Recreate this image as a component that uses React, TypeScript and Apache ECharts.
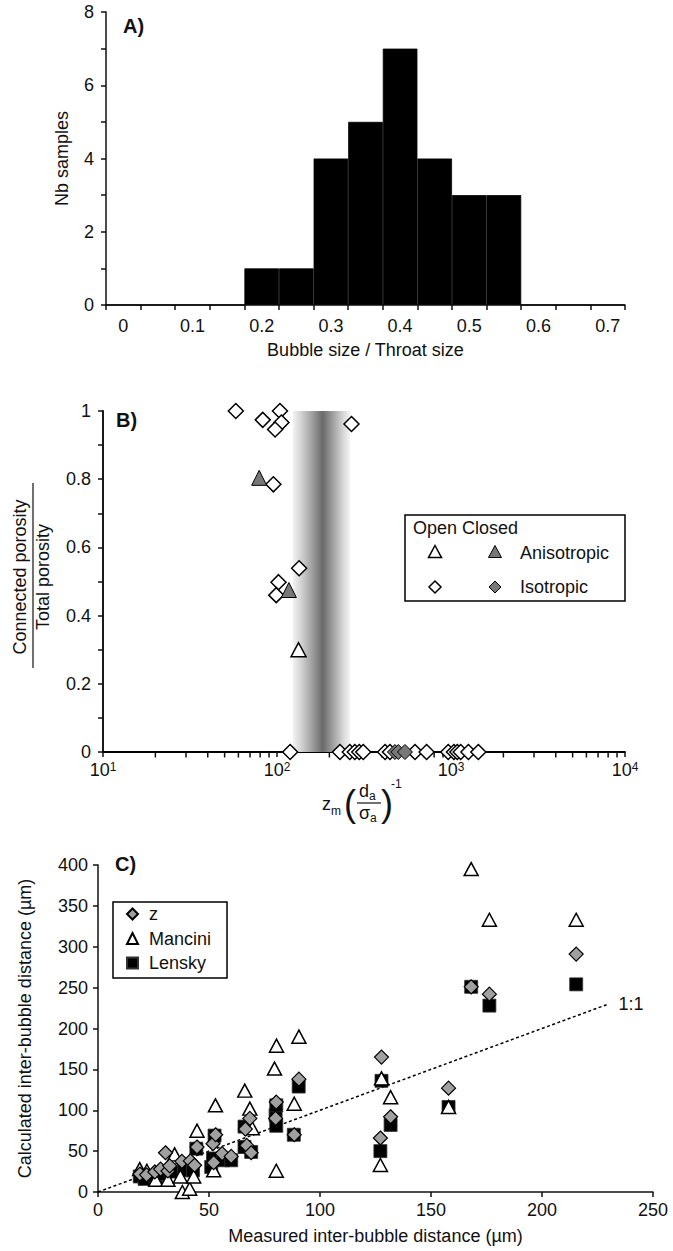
import React, { useEffect, useRef } from 'react';
import * as echarts from 'echarts';

const FONT = '"Liberation Sans", Arial, Helvetica, sans-serif';
const INK = '#111';
const GRAY_FILL = '#777777';
const Z_FILL = '#a0a0a0';

// ---------- Panel A : histogram ----------
const histBins = ['0', '0.05', '0.1', '0.15', '0.2', '0.25', '0.3', '0.35', '0.4', '0.45', '0.5', '0.55', '0.6', '0.65', '0.7'];
const histCounts = [0, 0, 0, 0, 1, 1, 4, 5, 7, 4, 3, 3, 0, 0, 0];

// ---------- Panel B : connectivity vs z_m (d/sigma)^-1 ----------
const openIsotropic: number[][] = [
  [58, 1.0], [82.8, 0.974], [104, 1.0], [106, 0.966], [97.5, 0.946], [268, 0.962],
  [95.3, 0.785], [134, 0.539], [102, 0.498], [99, 0.46],
  [119, 0], [230, 0], [262, 0], [280, 0], [297, 0], [313, 0], [418, 0], [446, 0],
  [621, 0], [724, 0], [964, 0], [1040, 0], [1087, 0], [1137, 0], [1259, 0], [1436, 0],
];
const openAnisotropic: number[][] = [[133, 0.3]];
const closedAnisotropic: number[][] = [[79, 0.804], [117, 0.475]];
const closedIsotropic: number[][] = [[476, 0], [498, 0], [544, 0]];
const bMinorTicks = [20, 30, 40, 50, 60, 70, 80, 90, 200, 300, 400, 500, 600, 700, 800, 900, 2000, 3000, 4000, 5000, 6000, 7000, 8000, 9000];
const transitionBand = [123, 264];

// ---------- Panel C : calculated vs measured inter-bubble distance ----------
const zData: number[][] = [
  [18.9, 22], [21.9, 21], [25.6, 24.5], [28.2, 28], [30.4, 48], [31.5, 25.7], [32.3, 32],
  [37.8, 37.5], [41.6, 38], [43.5, 32.7], [44.6, 55], [51.8, 59], [53, 70], [52.1, 36],
  [55.9, 47], [60, 43.5], [66.4, 77], [67, 57], [69, 48], [68.4, 90], [80.3, 110], [80, 90],
  [88.4, 70], [90.5, 138], [127.2, 66], [127.7, 165], [131.8, 92], [157.9, 127],
  [168.1, 251], [176.3, 242], [215.4, 291],
];
const manciniData: number[][] = [
  [18.8, 28], [22, 26], [26, 15], [31.5, 15], [34.5, 46], [37.1, 19], [38, 0], [41.3, 4],
  [43.1, 19], [44.6, 75], [52.9, 106], [52.1, 26.5], [66.1, 124], [68.4, 102], [69.5, 78],
  [80.3, 26], [79.5, 151], [80.4, 179], [88.4, 108], [90.5, 190], [127.2, 33], [127.7, 139],
  [131.8, 116], [157.9, 104], [168.1, 395], [176.3, 333], [215.4, 333],
];
const lenskyData: number[][] = [
  [18.8, 19], [21, 16], [26, 18], [30, 22], [33, 25], [38.7, 26.5], [42.8, 26.5], [44.3, 53],
  [51, 30.6], [51.8, 41], [52.5, 69], [56.3, 38.8], [60, 38.8], [66, 80], [66, 55], [69, 49],
  [80, 94], [80.3, 106], [80.3, 81], [88.2, 70], [90.4, 129], [127.2, 50], [127.7, 136],
  [131.8, 82], [157.9, 104], [168.1, 251], [176.3, 228], [215.4, 254],
];
const oneToOne: number[][] = [[0, 0], [230, 230]];

const axisLineStyle = { color: INK, width: 1.5 };
const labelStyle = { fontSize: 18, color: INK, fontFamily: FONT };

function diamond(cx: number, cy: number, r: number) {
  return [[cx, cy - r], [cx + r, cy], [cx, cy + r], [cx - r, cy]];
}
function tri(cx: number, cy: number, r: number) {
  return [[cx, cy - r], [cx + r, cy + r * 0.85], [cx - r, cy + r * 0.85]];
}
function txt(x: number, y: number, text: string, fontSize: number, extra: any = {}) {
  return {
    type: 'text', x, y, z: 100,
    style: {
      text, fontSize, fontFamily: FONT, fill: INK,
      align: 'left', textAlign: 'left', verticalAlign: 'middle', textVerticalAlign: 'middle',
      ...extra,
    },
  };
}

export default function App() {
  const ref = useRef<HTMLDivElement>(null);
  useEffect(() => {
    if (!ref.current) return;
    const chart = echarts.init(ref.current, undefined, { renderer: 'svg' });

    const bandGradient = new echarts.graphic.LinearGradient(0, 0, 1, 0, [
      { offset: 0, color: '#f4f4f4' },
      { offset: 0.15, color: '#d2d2d2' },
      { offset: 0.35, color: '#9c9c9c' },
      { offset: 0.52, color: '#6a6a6a' },
      { offset: 0.7, color: '#a0a0a0' },
      { offset: 0.88, color: '#d8d8d8' },
      { offset: 1, color: '#f6f6f6' },
    ]);

    const graphic: any[] = [
      // panel labels
      txt(123, 26, 'A)', 20, { fontWeight: 'bold' }),
      txt(116, 420, 'B)', 20, { fontWeight: 'bold' }),
      txt(115, 864, 'C)', 20, { fontWeight: 'bold' }),
      // panel B y-axis title (fraction)
      { type: 'text', x: 19.5, y: 577, rotation: Math.PI / 2, z: 100,
        style: { text: 'Connected porosity', fontSize: 18, fontFamily: FONT, fill: INK, align: 'center', textAlign: 'center', verticalAlign: 'middle', textVerticalAlign: 'middle' } },
      { type: 'line', z: 100, shape: { x1: 33, y1: 483, x2: 33, y2: 668 }, style: { stroke: INK, lineWidth: 1.2 } },
      { type: 'text', x: 43, y: 577, rotation: Math.PI / 2, z: 100,
        style: { text: 'Total porosity', fontSize: 18, fontFamily: FONT, fill: INK, align: 'center', textAlign: 'center', verticalAlign: 'middle', textVerticalAlign: 'middle' } },
      // panel B x-axis title: z_m (d_a / sigma_a)^-1
      txt(322, 804, 'z', 18),
      txt(331, 811, 'm', 12),
      txt(344, 803, '(', 36),
      txt(359, 791, 'd', 18),
      txt(369, 796, 'a', 12),
      { type: 'line', z: 100, shape: { x1: 357, y1: 803, x2: 381, y2: 803 }, style: { stroke: INK, lineWidth: 1.2 } },
      txt(359, 813, 'σ', 18),
      txt(370, 818, 'a', 12),
      txt(381, 803, ')', 36),
      txt(391, 784, '-1', 12),
      // panel B legend
      { type: 'rect', z: 99, shape: { x: 405, y: 515, width: 220, height: 86 }, style: { fill: '#fff', stroke: '#000', lineWidth: 1.5 } },
      txt(413, 528, 'Open Closed', 18),
      { type: 'polygon', z: 100, shape: { points: tri(435, 552, 6.5) }, style: { fill: '#fff', stroke: '#000', lineWidth: 1.5 } },
      { type: 'polygon', z: 100, shape: { points: tri(495, 552, 6.5) }, style: { fill: GRAY_FILL, stroke: '#000', lineWidth: 1 } },
      txt(520, 553, 'Anisotropic', 18),
      { type: 'polygon', z: 100, shape: { points: diamond(435, 587, 6) }, style: { fill: '#fff', stroke: '#000', lineWidth: 1.5 } },
      { type: 'polygon', z: 100, shape: { points: diamond(495, 587, 6) }, style: { fill: GRAY_FILL, stroke: '#000', lineWidth: 1 } },
      txt(520, 587, 'Isotropic', 18),
    ];

    const option: any = {
      animation: false,
      backgroundColor: '#fff',
      textStyle: { fontFamily: FONT },
      grid: [
        { left: 106, top: 12, width: 519, height: 293, containLabel: false, outerBoundsMode: 'none' },
        { left: 103, top: 411, width: 522, height: 341, containLabel: false, outerBoundsMode: 'none' },
        { left: 98, top: 865, width: 555, height: 327, containLabel: false, outerBoundsMode: 'none' },
      ],
      legend: {
        data: ['z', 'Mancini', 'Lensky'],
        orient: 'vertical',
        left: 113, top: 902,
        padding: [3, 16, 6, 13],
        itemGap: 6.5,
        itemWidth: 11, itemHeight: 11,
        borderColor: '#000', borderWidth: 1.5,
        backgroundColor: '#fff',
        selectedMode: false,
        textStyle: { fontSize: 18, color: INK, fontFamily: FONT, lineHeight: 18, padding: [0, 0, 0, 6] },
        z: 50,
      },
      xAxis: [
        {
          type: 'category', gridIndex: 0, data: histBins, boundaryGap: true,
          axisLine: { show: true, lineStyle: axisLineStyle },
          axisTick: { show: true, interval: 0, length: 5, lineStyle: axisLineStyle },
          axisLabel: { ...labelStyle, interval: 1, margin: 12 },
          splitLine: { show: false },
          name: 'Bubble size / Throat size', nameLocation: 'middle', nameGap: 36,
          nameTextStyle: { ...labelStyle },
        },
        {
          type: 'log', logBase: 10, gridIndex: 1, min: 10, max: 10000,
          axisLine: { show: true, onZero: false, lineStyle: { color: '#000', width: 1.8 } },
          axisTick: { show: true, length: 5, lineStyle: axisLineStyle },
          axisLabel: {
            margin: 9,
            formatter: (v: number) => `{b|10}{s|${Math.round(Math.log10(v))}}`,
            rich: {
              b: { fontSize: 18, color: INK, fontFamily: FONT },
              s: { fontSize: 12, color: INK, fontFamily: FONT, verticalAlign: 'top' },
            },
          },
          splitLine: { show: false },
          minorTick: { show: false },
        },
        {
          type: 'value', gridIndex: 2, min: 0, max: 250, interval: 50,
          axisLine: { show: true, onZero: false, lineStyle: axisLineStyle },
          axisTick: { show: true, length: 5, lineStyle: axisLineStyle },
          axisLabel: { ...labelStyle, margin: 9 },
          splitLine: { show: false },
          name: 'Measured inter-bubble distance (µm)', nameLocation: 'middle', nameGap: 35,
          nameTextStyle: { ...labelStyle },
        },
      ],
      yAxis: [
        {
          type: 'value', gridIndex: 0, min: 0, max: 8, interval: 2,
          axisLine: { show: true, lineStyle: axisLineStyle },
          axisTick: { show: true, length: 5, lineStyle: axisLineStyle },
          minorTick: { show: true, splitNumber: 2, length: 5, lineStyle: axisLineStyle },
          axisLabel: { ...labelStyle, margin: 12 },
          splitLine: { show: false },
          minorSplitLine: { show: false },
          name: 'Nb samples', nameLocation: 'middle', nameGap: 35, nameRotate: 90,
          nameTextStyle: { ...labelStyle },
        },
        {
          type: 'value', gridIndex: 1, min: 0, max: 1, interval: 0.2,
          axisLine: { show: true, onZero: false, lineStyle: { color: '#000', width: 1.8 } },
          axisTick: { show: true, length: 5, lineStyle: axisLineStyle },
          minorTick: { show: true, splitNumber: 2, length: 5, lineStyle: axisLineStyle },
          axisLabel: { ...labelStyle, margin: 12 },
          splitLine: { show: false },
          minorSplitLine: { show: false },
        },
        {
          type: 'value', gridIndex: 2, min: 0, max: 400, interval: 50,
          axisLine: { show: true, onZero: false, lineStyle: axisLineStyle },
          axisTick: { show: true, length: 5, lineStyle: axisLineStyle },
          axisLabel: { ...labelStyle, margin: 10 },
          splitLine: { show: false },
          name: 'Calculated inter-bubble distance (µm)', nameLocation: 'middle', nameGap: 64, nameRotate: 90,
          nameTextStyle: { ...labelStyle },
        },
      ],
      series: [
        // A
        {
          name: 'Nb samples', type: 'bar', xAxisIndex: 0, yAxisIndex: 0, data: histCounts,
          barCategoryGap: '0%', silent: true,
          itemStyle: { color: '#000', borderColor: '#000', borderWidth: 0.8 },
        },
        // B : log minor ticks + transition band
        {
          name: 'bTicks', type: 'scatter', xAxisIndex: 1, yAxisIndex: 1, silent: true, z: 1,
          data: bMinorTicks.map((v) => [v, 0]),
          symbol: 'rect', symbolSize: [1.5, 5], symbolOffset: [0, 3],
          itemStyle: { color: INK, opacity: 1 },
          markArea: {
            silent: true,
            itemStyle: { color: bandGradient, opacity: 1 },
            data: [[{ xAxis: transitionBand[0], yAxis: 0 }, { xAxis: transitionBand[1], yAxis: 1 }]],
          },
        },
        {
          name: 'Open Isotropic', type: 'scatter', xAxisIndex: 1, yAxisIndex: 1, data: openIsotropic,
          symbol: 'diamond', symbolSize: 15, z: 3,
          itemStyle: { color: '#fff', borderColor: '#000', borderWidth: 1.5, opacity: 1 },
        },
        {
          name: 'Open Anisotropic', type: 'scatter', xAxisIndex: 1, yAxisIndex: 1, data: openAnisotropic,
          symbol: 'triangle', symbolSize: [15, 14], z: 3,
          itemStyle: { color: '#fff', borderColor: '#000', borderWidth: 1.5, opacity: 1 },
        },
        {
          name: 'Closed Anisotropic', type: 'scatter', xAxisIndex: 1, yAxisIndex: 1, data: closedAnisotropic,
          symbol: 'triangle', symbolSize: [15, 15], z: 4,
          itemStyle: { color: GRAY_FILL, borderColor: '#000', borderWidth: 1, opacity: 1 },
        },
        {
          name: 'Closed Isotropic', type: 'scatter', xAxisIndex: 1, yAxisIndex: 1, data: closedIsotropic,
          symbol: 'diamond', symbolSize: 15, z: 4,
          itemStyle: { color: GRAY_FILL, borderColor: '#000', borderWidth: 1, opacity: 1 },
        },
        // C
        {
          name: '1:1', type: 'line', xAxisIndex: 2, yAxisIndex: 2, data: oneToOne,
          symbol: 'none', silent: true, z: 1,
          lineStyle: { color: '#000', width: 1.5, type: [3, 2.5] },
          endLabel: { show: true, formatter: '1:1', distance: 10, ...labelStyle },
        },
        {
          name: 'Lensky', type: 'scatter', xAxisIndex: 2, yAxisIndex: 2, data: lenskyData,
          symbol: 'rect', symbolSize: 13, z: 3,
          itemStyle: { color: '#000', borderColor: '#333', borderWidth: 0.8, opacity: 1 },
        },
        {
          name: 'Mancini', type: 'scatter', xAxisIndex: 2, yAxisIndex: 2, data: manciniData,
          symbol: 'triangle', symbolSize: [14, 13], z: 4,
          itemStyle: { color: '#fff', borderColor: '#000', borderWidth: 1.5, opacity: 1 },
        },
        {
          name: 'z', type: 'scatter', xAxisIndex: 2, yAxisIndex: 2, data: zData,
          symbol: 'diamond', symbolSize: 14, z: 5,
          itemStyle: { color: Z_FILL, borderColor: '#000', borderWidth: 1.2, opacity: 1 },
        },
      ],
      graphic,
    };

    chart.setOption(option);
    return () => chart.dispose();
  }, []);

  return (
    <div
      ref={ref}
      style={{ position: 'fixed', left: 0, top: 0, width: 673, height: 1251, background: '#fff' }}
    />
  );
}
